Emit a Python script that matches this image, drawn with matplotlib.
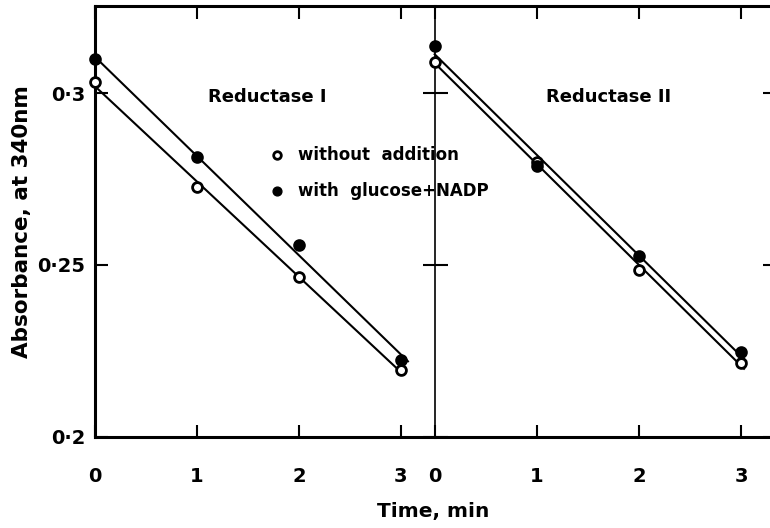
import numpy as np
import matplotlib
matplotlib.use('Agg')
from matplotlib import pyplot as plt

time = [0, 1, 2, 3]

# Reductase I
r1_without = [0.3032, 0.2726, 0.2464, 0.2195]
r1_with = [0.3099, 0.2813, 0.2557, 0.2222]

# Reductase II
r2_without = [0.3090, 0.2799, 0.2484, 0.2216]
r2_with = [0.3137, 0.2787, 0.2525, 0.2248]

y_ticks = [0.2, 0.25, 0.3]
y_labels = ['0·2', '0·25', '0·3']
x_ticks = [0, 1, 2, 3]

plt.rcParams['font.family'] = ['DejaVu Sans']
plt.rcParams['font.weight'] = 'bold'

fig = plt.figure(figsize=(7.7, 5.28), dpi=100)
ax1 = fig.add_axes([0.1234, 0.1729, 0.4412, 0.8157])
ax2 = fig.add_axes([0.5645, 0.1729, 0.4420, 0.8157])
ax2.patch.set_visible(False)


def draw_panel(ax, without, with_, ends):
    for ys, face, end in ((without, 'white', ends[0]), (with_, 'black', ends[1])):
        k, b = np.polyfit(time, ys, 1)
        xs = np.array([0, end])
        ax.plot(xs, k * xs + b, color='black', lw=1.5, clip_on=False, zorder=2)
        ax.scatter(time, ys, s=50, facecolor=face, edgecolor='black',
                   linewidth=2, zorder=3, clip_on=False)
    ax.set_xlim(0, 3.333)
    ax.set_ylim(0.2, 0.3254)
    ax.set_xticks(x_ticks)
    ax.set_xticklabels([str(t) for t in x_ticks], fontsize=14, fontweight='bold')
    ax.tick_params(axis='x', direction='in', length=9, width=1.5,
                   top=True, pad=22)
    ax.tick_params(axis='y', direction='in', length=9, width=1.5,
                   left=True, right=True)
    for s in ('bottom', 'top'):
        ax.spines[s].set_linewidth(2.2)


draw_panel(ax1, r1_without, r1_with, (3.03, 3.07))
draw_panel(ax2, r2_without, r2_with, (3.03, 3.05))

ax1.set_yticks(y_ticks)
ax1.set_yticklabels(y_labels, fontsize=14, fontweight='bold')
ax1.tick_params(axis='y', pad=7)
ax1.spines['left'].set_linewidth(2.2)
ax1.spines['right'].set_linewidth(1.2)
ax2.spines['left'].set_visible(False)
ax2.spines['right'].set_linewidth(2.2)
ax2.set_yticks(y_ticks)
ax2.set_yticklabels([])

ax1.text(1.69, 0.2988, 'Reductase I', fontsize=13, fontweight='bold',
         ha='center', va='center')
ax2.text(1.70, 0.2988, 'Reductase II', fontsize=13, fontweight='bold',
         ha='center', va='center')

# legend drawn by hand, as in the figure
ax1.scatter([1.786], [0.2819], s=30, facecolor='white', edgecolor='black',
            linewidth=2, clip_on=False, zorder=5)
ax1.scatter([1.786], [0.2714], s=40, facecolor='black', edgecolor='black',
            clip_on=False, zorder=5)
ax1.text(1.99, 0.2819, 'without  addition', fontsize=12, fontweight='bold',
         va='center', ha='left', clip_on=False, zorder=5)
ax1.text(1.99, 0.2714, 'with  glucose+NADP', fontsize=12, fontweight='bold',
         va='center', ha='left', clip_on=False, zorder=5)

fig.text(22 / 770, 1 - 222 / 528, 'Absorbance, at 340nm', rotation=90,
         fontsize=15.5, fontweight='bold', ha='center', va='center')
fig.text(433 / 770, 1 - 512 / 528, 'Time, min', fontsize=14.5,
         fontweight='bold', ha='center', va='center')

fig.savefig('out.png', dpi=100)
